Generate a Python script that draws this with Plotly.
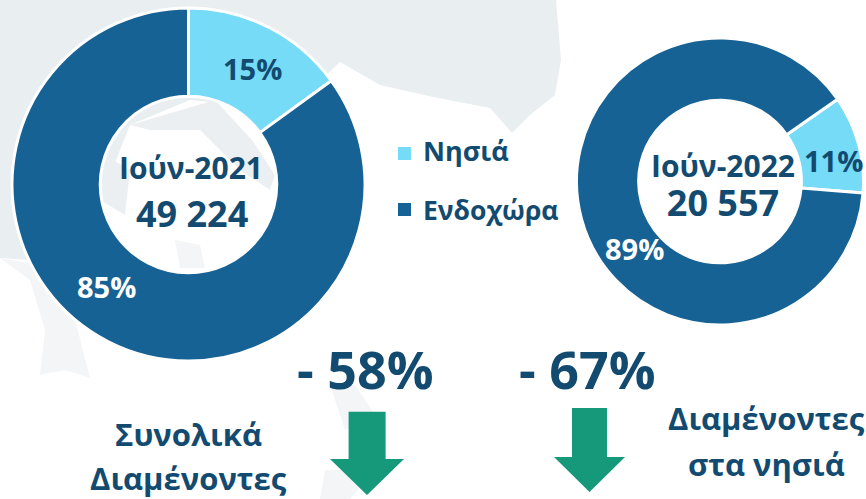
import plotly.graph_objects as go

W, H = 866, 499
categories = ["Νησιά", "Ενδοχώρα"]
values_2021 = [15, 85]
values_2022 = [11, 89]
period_2021, total_2021 = "Ιούν-2021", "49 224"
period_2022, total_2022 = "Ιούν-2022", "20 557"
change_total, change_islands = "- 58%", "- 67%"
caption_total = ["Συνολικά", "Διαμένοντες"]
caption_islands = ["Διαμένοντες", "στα νησιά"]

DARK, LIGHT, TEXT, GREEN = "#166295", "#75DBF7", "#134B70", "#16987A"
FONT = "Open Sans"

def dom(cx, cy, r):
    return dict(x=[(cx - r) / W, (cx + r) / W], y=[1 - (cy + r) / H, 1 - (cy - r) / H])

def path(points, fill, layer="below"):
    d = "M " + " L ".join(f"{x / W:.5f},{1 - y / H:.5f}" for x, y in points) + " Z"
    return dict(type="path", xref="paper", yref="paper", path=d, fillcolor=fill,
                line=dict(width=0), layer=layer)

def note(x, y, text, size, color=TEXT):
    return dict(x=x / W, y=1 - y / H, xref="paper", yref="paper", text=f"<b>{text}</b>", showarrow=False,
                xanchor="center", yanchor="middle", align="center",
                font=dict(family=FONT, size=size, color=color))

fig = go.Figure()
fig.add_trace(go.Pie(labels=categories, values=values_2021, hole=0.5, sort=False, direction="clockwise",
                     rotation=0, domain=dom(188.5, 184.5, 176.5), textinfo="none", showlegend=False,
                     marker=dict(colors=[LIGHT, DARK], line=dict(color="white", width=3))))
fig.add_trace(go.Pie(labels=categories, values=values_2022, hole=0.567, sort=False, direction="clockwise",
                     rotation=55, domain=dom(720, 181.5, 143.5), textinfo="none", showlegend=False,
                     marker=dict(colors=[LIGHT, DARK], line=dict(color="white", width=3))))

BG1, BG2, BG3 = "#E9EEF0", "#F3F5F6", "#ECEFF1"
shapes = [
    path([(0, 0), (556, 0), (561, 60), (555, 95), (530, 115), (512, 133), (505, 125), (490, 108),
          (433, 97), (380, 85), (340, 62), (300, 100), (240, 105), (190, 100), (130, 125), (100, 200),
          (60, 262), (0, 258)], BG1),
    path([(130, 125), (215, 100), (252, 140), (275, 175), (270, 190), (240, 170), (200, 130), (150, 130)], BG3),
    path([(105, 155), (130, 170), (125, 215), (100, 200)], BG3),
    path([(0, 258), (30, 280), (45, 330), (40, 375), (65, 370), (90, 378), (70, 300), (40, 265)], BG2),
    path([(330, 385), (355, 385), (375, 415), (345, 430)], BG2),
    path([(175, 240), (200, 245), (205, 268), (180, 268)], BG2),
    path([(325, 470), (375, 470), (350, 499), (320, 499)], BG2),
    # arrows
    path([(348.6, 411.7), (385.6, 411.7), (385.6, 459), (404, 459), (367, 495), (330, 459), (348.6, 459)], GREEN, "above"),
    path([(572, 408), (607, 408), (607, 457), (625, 457), (589.5, 492), (554, 457), (572, 457)], GREEN, "above"),
    # legend swatches
    dict(type="rect", xref="paper", yref="paper", x0=398 / W, x1=411 / W, y0=1 - 160 / H, y1=1 - 147 / H,
         fillcolor=LIGHT, line=dict(width=0)),
    dict(type="rect", xref="paper", yref="paper", x0=398 / W, x1=411 / W, y0=1 - 216 / H, y1=1 - 203 / H,
         fillcolor=DARK, line=dict(width=0)),
]

annotations = [
    note(252, 68, "15%", 29),
    note(106, 286, "85%", 29, "white"),
    note(191, 167, period_2021, 30),
    note(192, 213, total_2021, 36),
    note(833, 160, "11%", 29),
    note(634, 248, "89%", 29, "white"),
    note(723, 186, f"{period_2022}<br><span style='font-size:36px'>{total_2022}</span>", 30),
    note(466, 150, categories[0], 27),
    note(491, 210, categories[1], 26.5),
    note(365, 368, change_total, 52),
    note(587, 368, change_islands, 52),
    note(188, 434, caption_total[0], 31),
    note(188, 478, caption_total[1], 31),
    note(766, 418, caption_islands[0], 31),
    note(766, 464, caption_islands[1], 31),
]

fig.update_layout(width=W, height=H, autosize=False, margin=dict(l=0, r=0, t=0, b=0),
                  paper_bgcolor="white", plot_bgcolor="white", showlegend=False,
                  shapes=shapes, annotations=annotations, font=dict(family=FONT))
fig.write_html("out.html", config=dict(displayModeBar=False, responsive=False),
               post_script="document.body.style.margin='0';document.documentElement.style.overflow='hidden';")
